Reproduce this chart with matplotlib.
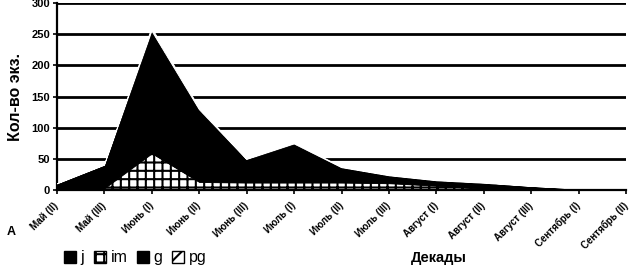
"""Stacked area chart: specimens per decade (May - September)."""
import matplotlib
matplotlib.use("Agg")
import matplotlib.pyplot as plt
from matplotlib.patches import Patch
from matplotlib.transforms import ScaledTranslation

plt.rcParams["font.family"] = ["Liberation Sans", "DejaVu Sans"]
plt.rcParams["hatch.linewidth"] = 1.5
plt.rcParams["hatch.color"] = "black"

decades = ["Май (II)", "Май (III)", "Июнь (I)", "Июнь (II)", "Июнь (III)",
           "Июль (I)", "Июль (II)", "Июль (III)", "Август (I)", "Август (II)",
           "Август (III)", "Сентябрь (I)", "Сентябрь (II)"]
j_vals = [3, 2, 1, 1, 1, 1, 1, 1, 1, 0, 0, 0, 0]
im_vals = [0, 1, 58, 12, 11, 11, 11, 10, 6, 2, 0, 0, 0]
g_vals = [7, 37, 196, 116, 37, 62, 24, 12, 8, 9, 6, 2, 0]
pg_vals = [0, 0, 5, 3, 1, 2, 1, 1, 1, 1, 0, 0, 0]

fig = plt.figure(figsize=(6.29, 2.70), dpi=100)
ax = fig.add_axes([0.0906, 0.296, 0.905, 0.693])

x = list(range(len(decades)))
polys = ax.stackplot(x, j_vals, im_vals, g_vals, pg_vals,
                     colors=["black", "white", "black", "white"],
                     linewidth=0.6, edgecolor="black")
polys[1].set_hatch("++")
polys[3].set_hatch("xxxx")
polys[3].set_edgecolor("white")
for p in polys:
    p.set_zorder(3)

ax.set_xlim(0, len(decades) - 1)
ax.set_ylim(0, 300)
ax.set_yticks(range(0, 301, 50))
ax.yaxis.grid(True, color="black", linewidth=2)
ax.set_axisbelow(True)
for s in ("top", "right"):
    ax.spines[s].set_visible(False)
ax.spines["left"].set_linewidth(1.6)
ax.spines["bottom"].set_linewidth(1.6)
ax.spines["bottom"].set_zorder(5)

ax.set_xticks(x)
ax.set_xticklabels(decades, rotation=45, ha="right", va="center",
                   rotation_mode="anchor", fontsize=7, fontweight="bold")
shift = ScaledTranslation(-4 / 100, 0, fig.dpi_scale_trans)
for t in ax.get_xticklabels():
    t.set_transform(t.get_transform() + shift)
ax.tick_params(axis="x", length=3, width=1.2, pad=7)
ax.tick_params(axis="y", length=3, width=1.2, pad=2, labelsize=8)
for t in ax.get_yticklabels():
    t.set_fontweight("bold")

ax.set_ylabel("Кол-во экз.", fontsize=11.5, fontweight="bold", labelpad=6)
fig.text(0.697, 0.045, "Декады", ha="center", va="center",
         fontsize=10.5, fontweight="bold")
fig.text(0.017, 0.14, "A", ha="center", va="center",
         fontsize=9, fontweight="bold")

handles = [Patch(facecolor="black", edgecolor="black", label="j"),
           Patch(facecolor="white", edgecolor="black", hatch="++", label="im"),
           Patch(facecolor="black", edgecolor="black", label="g"),
           Patch(facecolor="white", edgecolor="black", hatch="x", label="pg")]
fig.legend(handles=handles, loc="center", bbox_to_anchor=(0.215, 0.045),
           ncol=4, frameon=False, fontsize=11.5, handlelength=0.75,
           handleheight=0.8, handletextpad=0.3, columnspacing=0.6)

fig.savefig("out.png", dpi=100, facecolor="white")
